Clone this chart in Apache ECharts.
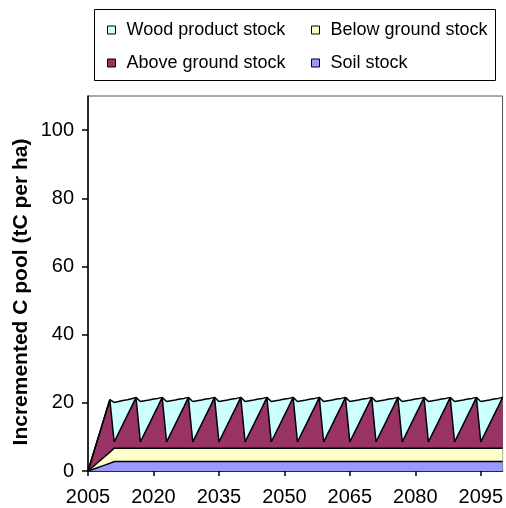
<!DOCTYPE html>
<html><head><meta charset="utf-8">
<script src="https://cdn.jsdelivr.net/npm/echarts@6/dist/echarts.min.js"></script>
<style>html,body{margin:0;padding:0;background:#fff}#c{width:506px;height:508px}</style>
</head><body><div id="c"></div>
<script>
const years = [2005,2006,2007,2008,2009,2010,2011,2012,2013,2014,2015,2016,2017,2018,2019,2020,
2021,2022,2023,2024,2025,2026,2027,2028,2029,2030,2031,2032,2033,2034,2035,2036,2037,2038,2039,2040,
2041,2042,2043,2044,2045,2046,2047,2048,2049,2050,2051,2052,2053,2054,2055,2056,2057,2058,2059,2060,
2061,2062,2063,2064,2065,2066,2067,2068,2069,2070,2071,2072,2073,2074,2075,2076,2077,2078,2079,2080,
2081,2082,2083,2084,2085,2086,2087,2088,2089,2090,2091,2092,2093,2094,2095,2096,2097,2098,2099,2100];

const soilStock = [0,0.45,0.9,1.35,1.8,2.25,
2.8,2.8,2.8,2.8,2.8,2.8,2.8,2.8,2.8,2.8,2.8,2.8,2.8,2.8,2.8,
2.8,2.8,2.8,2.8,2.8,2.8,2.8,2.8,2.8,2.8,2.8,2.8,2.8,2.8,2.8,
2.8,2.8,2.8,2.8,2.8,2.8,2.8,2.8,2.8,2.8,2.8,2.8,2.8,2.8,2.8,
2.8,2.8,2.8,2.8,2.8,2.8,2.8,2.8,2.8,2.8,2.8,2.8,2.8,2.8,2.8,
2.8,2.8,2.8,2.8,2.8,2.8,2.8,2.8,2.8,2.8,2.8,2.8,2.8,2.8,2.8,
2.8,2.8,2.8,2.8,2.8,2.8,2.8,2.8,2.8,2.8,2.8,2.8,2.8,2.8,2.8];

const belowGround = [0,0.65,1.3,1.95,2.6,3.25,
3.9,3.9,3.9,3.9,3.9,3.9,3.9,3.9,3.9,3.9,3.9,3.9,3.9,3.9,3.9,
3.9,3.9,3.9,3.9,3.9,3.9,3.9,3.9,3.9,3.9,3.9,3.9,3.9,3.9,3.9,
3.9,3.9,3.9,3.9,3.9,3.9,3.9,3.9,3.9,3.9,3.9,3.9,3.9,3.9,3.9,
3.9,3.9,3.9,3.9,3.9,3.9,3.9,3.9,3.9,3.9,3.9,3.9,3.9,3.9,3.9,
3.9,3.9,3.9,3.9,3.9,3.9,3.9,3.9,3.9,3.9,3.9,3.9,3.9,3.9,3.9,
3.9,3.9,3.9,3.9,3.9,3.9,3.9,3.9,3.9,3.9,3.9,3.9,3.9,3.9,3.9];

const aboveGround = [0,3.1,6.2,9.2,12.3,15.4,
1.8,4.4,7.0,9.6,12.2,14.9, 1.8,4.4,7.0,9.6,12.2,14.9, 1.8,4.4,7.0,9.6,12.2,14.9,
1.8,4.4,7.0,9.6,12.2,14.9, 1.8,4.4,7.0,9.6,12.2,14.9, 1.8,4.4,7.0,9.6,12.2,14.9,
1.8,4.4,7.0,9.6,12.2,14.9, 1.8,4.4,7.0,9.6,12.2,14.9, 1.8,4.4,7.0,9.6,12.2,14.9,
1.8,4.4,7.0,9.6,12.2,14.9, 1.8,4.4,7.0,9.6,12.2,14.9, 1.8,4.4,7.0,9.6,12.2,14.9,
1.8,4.4,7.0,9.6,12.2,14.9, 1.8,4.4,7.0,9.6,12.2,14.9, 1.8,4.4,7.0,9.6,12.2,14.9];

const woodProduct = [0,0,0,0,0,0,
11.6,9.3,7.0,4.6,2.3,0, 11.9,9.5,7.1,4.8,2.4,0, 11.9,9.5,7.1,4.8,2.4,0,
11.9,9.5,7.1,4.8,2.4,0, 11.9,9.5,7.1,4.8,2.4,0, 11.9,9.5,7.1,4.8,2.4,0,
11.9,9.5,7.1,4.8,2.4,0, 11.9,9.5,7.1,4.8,2.4,0, 11.9,9.5,7.1,4.8,2.4,0,
11.9,9.5,7.1,4.8,2.4,0, 11.9,9.5,7.1,4.8,2.4,0, 11.9,9.5,7.1,4.8,2.4,0,
11.9,9.5,7.1,4.8,2.4,0, 11.9,9.5,7.1,4.8,2.4,0, 11.9,9.5,7.1,4.8,2.4,0];

const names = ['Soil stock','Below ground stock','Above ground stock','Wood product stock'];
const colors = ['#9999FF','#FFFFCC','#993366','#CCFFFF'];
const datasets = [soilStock, belowGround, aboveGround, woodProduct];

const FONT = 'Liberation Sans, Arial, sans-serif';
const chart = echarts.init(document.getElementById('c'), null, {renderer:'canvas'});

function legendItem(name, left, top){
  return {
    data:[name], left:left, top:top, padding:0, itemWidth:8, itemHeight:8,
    icon:'rect', selectedMode:false,
    itemStyle:{borderColor:'#000', borderWidth:1},
    textStyle:{fontFamily:FONT, fontSize:18, color:'#000', padding:[0,0,0,6]}
  };
}

chart.setOption({
  animation:false,
  backgroundColor:'#fff',
  grid:{left:88, right:1, top:96, bottom:37, show:true, borderColor:'#555', borderWidth:1, containLabel:false},
  legend:[
    legendItem('Wood product stock',107,21),
    legendItem('Below ground stock',311,21),
    legendItem('Above ground stock',107,54),
    legendItem('Soil stock',311,54)
  ],
  graphic:[
    {type:'rect', shape:{x:94.5, y:9.5, width:401, height:71}, style:{fill:'none', stroke:'#000', lineWidth:1}, z:-1},
    {type:'text', x:21, y:292, rotation:Math.PI/2,
     style:{text:'Incremented C pool (tC per ha)', font:'bold 21px Liberation Sans, Arial, sans-serif', fill:'#000', align:'center', verticalAlign:'middle'}}
  ],
  xAxis:{
    type:'category', data:years, boundaryGap:false,
    axisLine:{lineStyle:{color:'#000', width:1.5}},
    axisTick:{interval:14, length:5, lineStyle:{color:'#000', width:1.5}},
    axisLabel:{interval:14, fontFamily:FONT, fontSize:20, color:'#000', margin:16},
    splitLine:{show:false}
  },
  yAxis:{
    type:'value', min:0, max:110, interval:20,
    axisLine:{show:true, lineStyle:{color:'#000', width:1.5}},
    axisTick:{show:true, length:6, lineStyle:{color:'#000', width:1.5}},
    axisLabel:{fontFamily:FONT, fontSize:20, color:'#000', margin:14, showMaxLabel:false},
    splitLine:{show:false}
  },
  series: datasets.map((d,i)=>({
    name:names[i], type:'line', stack:'total', data:d,
    symbol:'none', smooth:false,
    lineStyle:{color:'#000', width:1.5},
    itemStyle:{color:colors[i]},
    areaStyle:{color:colors[i], opacity:1}
  }))
});
</script></body></html>
